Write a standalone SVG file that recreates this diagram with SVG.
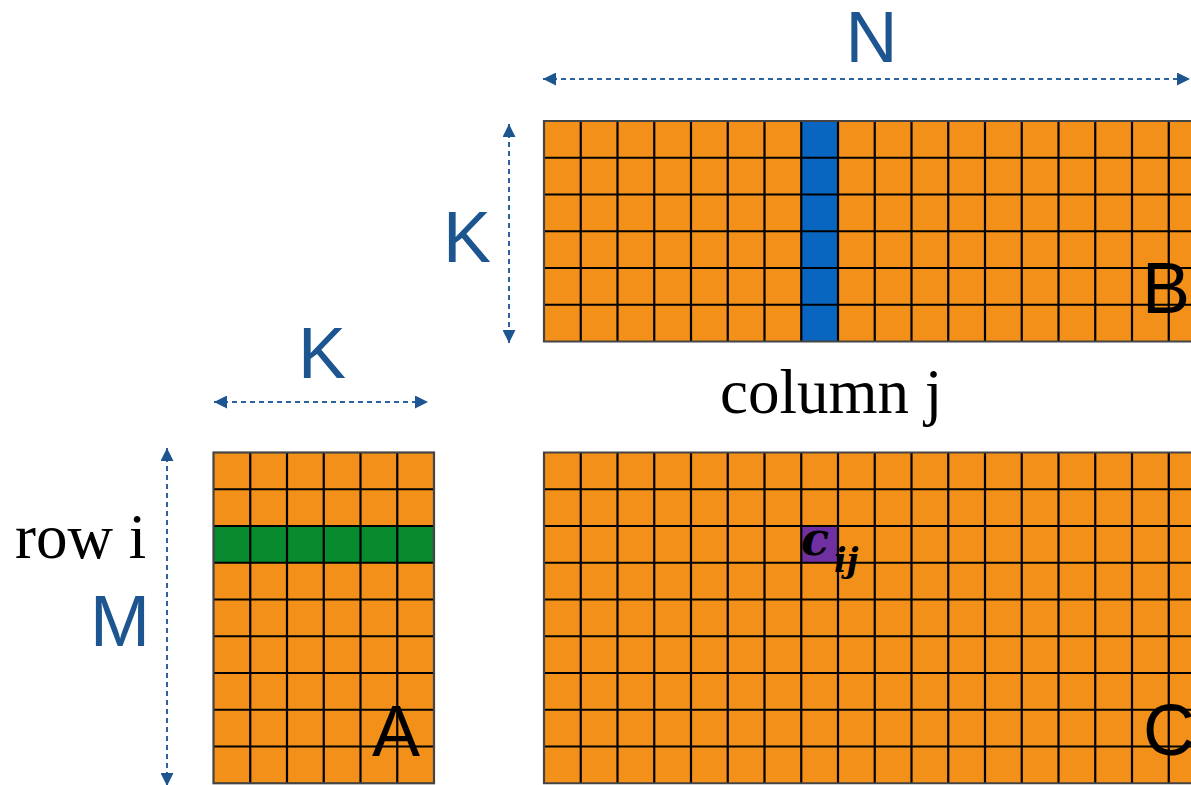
<svg xmlns="http://www.w3.org/2000/svg" width="1191" height="785" viewBox="0 0 1191 785">
<style>
.cell{fill:#F39019}
.grid{stroke:#000;stroke-width:2.2;fill:none}
.border{stroke:#444;stroke-width:2.2;fill:none}
.dim{stroke:#2C62A0;stroke-width:2;stroke-dasharray:5 4;fill:none}
.lbl{font-family:"Liberation Sans",Arial,sans-serif;font-size:72px;fill:#1D5590;text-anchor:middle}
.mat{font-family:"Liberation Sans",Arial,sans-serif;font-size:72px;fill:#000}
.ser{font-family:"Liberation Serif","Times New Roman",serif;font-size:63px;fill:#000}
.math{font-family:"DejaVu Serif","Liberation Serif",serif;font-weight:bold;font-style:italic;fill:#000}
</style>
<defs>
<marker id="ah" viewBox="0 0 13 13" refX="13" refY="6.5" markerWidth="13" markerHeight="13" markerUnits="userSpaceOnUse" orient="auto-start-reverse">
<path d="M0,0 L13,6.5 L0,13 Z" fill="#1D5590"/>
</marker>
</defs>
<rect width="1191" height="785" fill="#fff"/>

<g id="matrixB">
<rect class="cell" x="544" y="121" width="680" height="220.5"/>
<rect x="801.25" y="121" width="36.75" height="220.5" fill="#0866C0"/>
<path class="grid" d="M580.75,121V341.5M617.5,121V341.5M654.25,121V341.5M691,121V341.5M727.75,121V341.5M764.5,121V341.5M801.25,121V341.5M838,121V341.5M874.75,121V341.5M911.5,121V341.5M948.25,121V341.5M985,121V341.5M1021.75,121V341.5M1058.5,121V341.5M1095.25,121V341.5M1132,121V341.5M1168.75,121V341.5M544,157.75H1191M544,194.5H1191M544,231.25H1191M544,268H1191M544,304.75H1191"/>
<path class="border" d="M1191,121H544V341.5H1191"/>
<text class="mat" x="1142" y="313">B</text>
</g>

<g id="matrixA">
<rect class="cell" x="213.5" y="452.5" width="220.5" height="330.75"/>
<rect x="213.5" y="526" width="220.5" height="36.75" fill="#088A2E"/>
<path class="grid" d="M250.25,452.5V783.25M287,452.5V783.25M323.75,452.5V783.25M360.5,452.5V783.25M397.25,452.5V783.25M213.5,489.25H434M213.5,526H434M213.5,562.75H434M213.5,599.5H434M213.5,636.25H434M213.5,673H434M213.5,709.75H434M213.5,746.5H434"/>
<rect class="border" x="213.5" y="452.5" width="220.5" height="330.75"/>
<text class="mat" x="396" y="756" text-anchor="middle">A</text>
</g>

<g id="matrixC">
<rect class="cell" x="544" y="452.5" width="680" height="330.75"/>
<rect x="801.25" y="526" width="36.75" height="36.75" fill="#7030A0"/>
<path class="grid" d="M580.75,452.5V783.25M617.5,452.5V783.25M654.25,452.5V783.25M691,452.5V783.25M727.75,452.5V783.25M764.5,452.5V783.25M801.25,452.5V783.25M838,452.5V783.25M874.75,452.5V783.25M911.5,452.5V783.25M948.25,452.5V783.25M985,452.5V783.25M1021.75,452.5V783.25M1058.5,452.5V783.25M1095.25,452.5V783.25M1132,452.5V783.25M1168.75,452.5V783.25M544,489.25H1191M544,526H1191M544,562.75H1191M544,599.5H1191M544,636.25H1191M544,673H1191M544,709.75H1191M544,746.5H1191"/>
<path class="border" d="M1191,452.5H544V783.25H1191"/>
<text class="mat" x="1143" y="755">C</text>
<text class="math" x="801" y="555" font-size="46">c<tspan x="834" y="572" font-size="33">ij</tspan></text>
</g>

<g id="connectors">
<line class="dim" x1="543" y1="79" x2="1190" y2="79" marker-start="url(#ah)" marker-end="url(#ah)"/>
<line class="dim" x1="509" y1="124" x2="509" y2="343" marker-start="url(#ah)" marker-end="url(#ah)"/>
<line class="dim" x1="214" y1="402" x2="428" y2="402" marker-start="url(#ah)" marker-end="url(#ah)"/>
<line class="dim" x1="167" y1="448" x2="167" y2="786" marker-start="url(#ah)" marker-end="url(#ah)"/>
</g>

<g id="labels">
<text class="lbl" x="871.5" y="62">N</text>
<text class="lbl" x="467" y="262">K</text>
<text class="lbl" x="322" y="378">K</text>
<text class="lbl" x="120" y="646">M</text>
<text class="ser" x="720" y="413">column j</text>
<text class="ser" x="15" y="558">row i</text>
</g>
</svg>
